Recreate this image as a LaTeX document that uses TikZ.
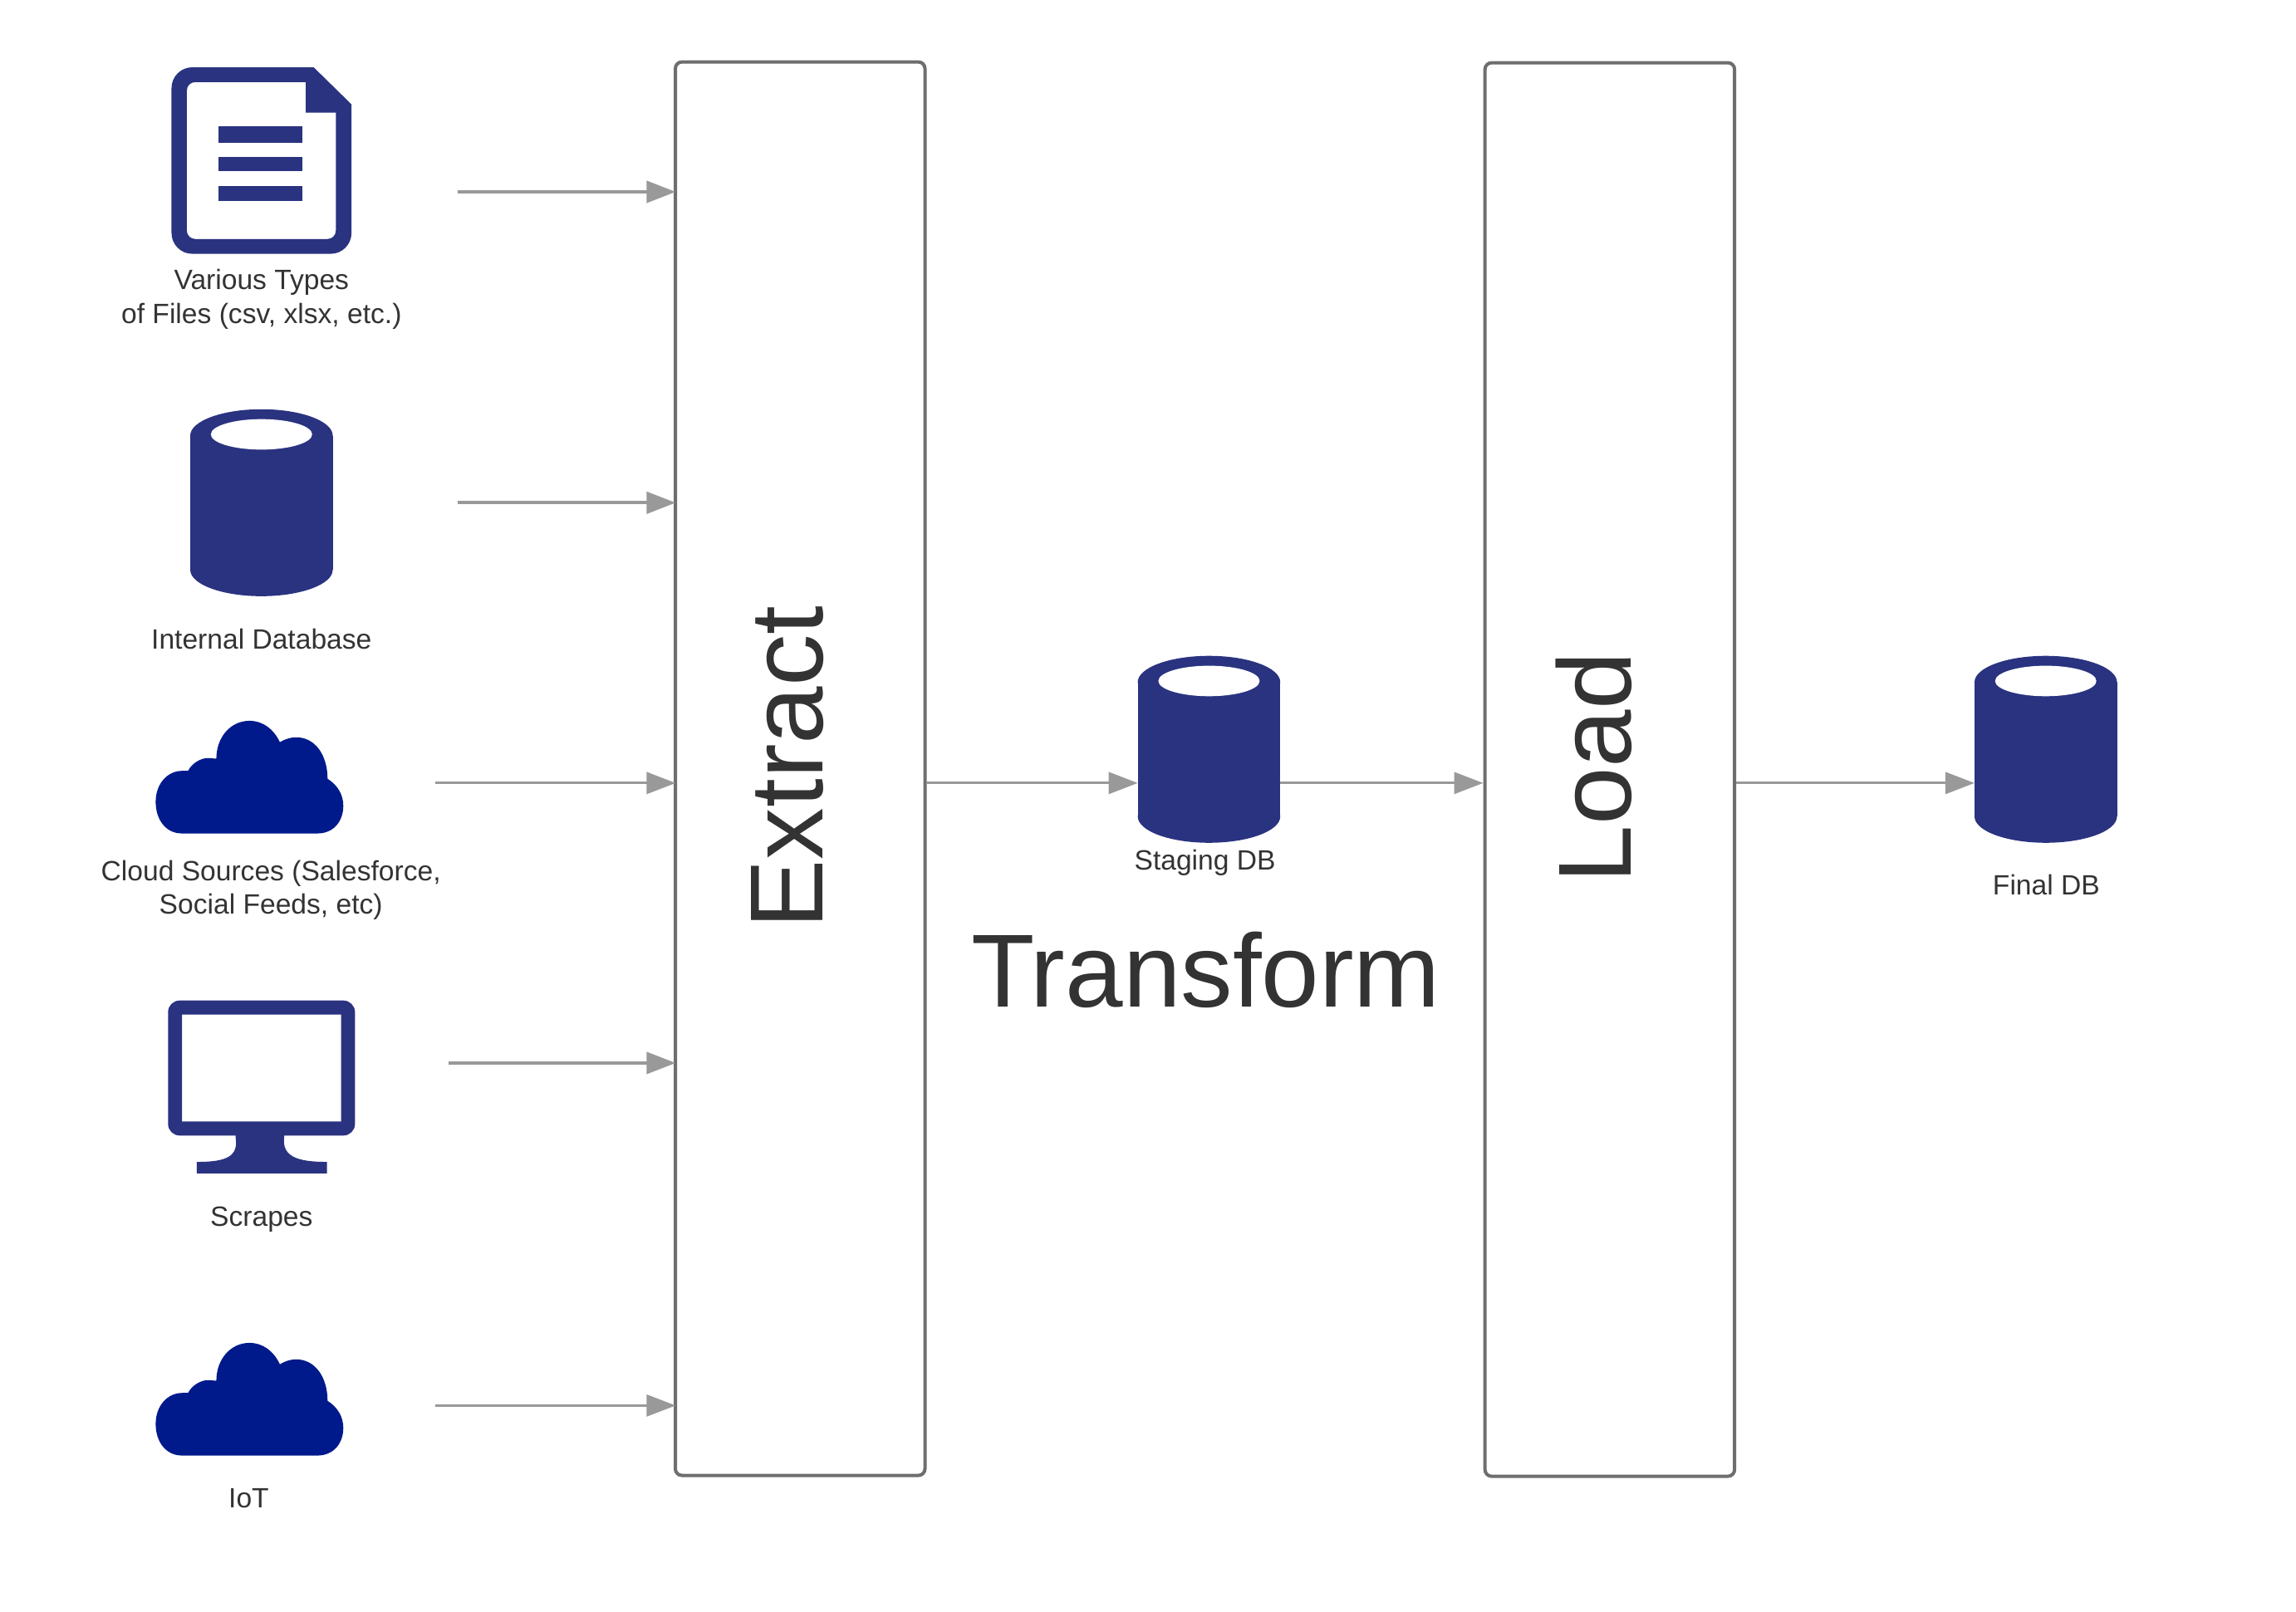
\documentclass[tikz,border=0pt]{standalone}
\usepackage{fontspec}
\setmainfont{Liberation Sans}
\usetikzlibrary{arrows.meta}
\definecolor{navy}{HTML}{2A3380}
\definecolor{cloudblue}{HTML}{001A8C}
\definecolor{arrowgrey}{HTML}{999999}
\definecolor{boxgrey}{HTML}{6E6E6E}
\definecolor{inkgrey}{HTML}{333333}
\tikzset{
  iconbox/.style={rectangle,draw=none,fill=none,inner sep=0pt,outer sep=0pt},
  stagebox/.style={rectangle,draw=boxgrey,fill=white,line width=4pt,rounded corners=8pt,minimum width=300.5pt,minimum height=1702pt,inner sep=0pt},
  flow/.style={draw=arrowgrey,line width=3.2pt,-{Triangle[length=35pt,width=26pt,fill=arrowgrey]}},
  toextract/.style={flow,shorten >=-2.5pt},
  smalltext/.style={text=inkgrey,font=\fontsize{33.6}{40.6}\selectfont,align=center,inner sep=0pt},
  bigtext/.style={text=inkgrey,font=\fontsize{125}{125}\selectfont,inner sep=0pt}
}
\newcommand{\dbicon}[3]{%
  \node[iconbox,minimum width=171.5pt,minimum height=225pt] (#1) at (#2,#3) {};
  \begin{scope}[shift={(#1.north west)}]
    \fill[navy] (0,32) -- (0,195) -- (173,195) -- (173,32) -- cycle;
    \fill[navy] (86.5,32) ellipse [x radius=86.5pt,y radius=32pt];
    \fill[navy] (86.5,195) ellipse [x radius=86.5pt,y radius=32pt];
    \fill[white] (86.5,30.5) ellipse [x radius=61.5pt,y radius=18.5pt];
  \end{scope}}
\newcommand{\cloudicon}[3]{%
  \node[iconbox,minimum width=226pt,minimum height=136pt] (#1) at (#2,#3) {};
  \begin{scope}[shift={(#1.north west)},x=0.491pt,y=-0.4pt]
    \fill[cloudblue] (65,342)
      .. controls (25,342) and (0,300) .. (0,246)
      .. controls (0,190) and (30,152) .. (65,152)
      -- (80,152)
      .. controls (90,128) and (112,113) .. (130,113)
      -- (150,115)
      .. controls (150,50) and (185,0) .. (232,0)
      .. controls (265,0) and (292,25) .. (307,65)
      .. controls (320,55) and (335,50) .. (347,50)
      .. controls (395,50) and (425,105) .. (425,176)
      .. controls (450,195) and (464,225) .. (464,258)
      .. controls (464,305) and (440,342) .. (400,342)
      -- cycle;
  \end{scope}}
\begin{document}
\begin{tikzpicture}[x=1pt,y=-1pt,scale=0.9915]
\useasboundingbox (0,0) rectangle (2787.7,1957.6);
% stage boxes
\node[stagebox] (extract) at (971.5,933.5) {};
\node[stagebox] (load) at (1954.5,934.5) {};
% file icon
\node[iconbox,minimum width=216.6pt,minimum height=224.6pt] (files) at (317.5,195) {};
\begin{scope}[shift={(files.north west)}]
  \fill[navy,even odd rule]
    (0,100) [rounded corners=25pt] -- (0,0) [sharp corners] -- (172.6,0) -- (218.5,45)
    [rounded corners=25pt] -- (218.5,226.5) -- (0,226.5) [sharp corners] -- cycle
    (18.6,100) [rounded corners=10pt] -- (18.6,18) [sharp corners] -- (163,18) -- (163,55) -- (199.5,55)
    [rounded corners=10pt] -- (199.5,208.5) -- (18.6,208.5) [sharp corners] -- cycle;
  \fill[navy] (57,72) rectangle (159,91.5);
  \fill[navy] (57,108.5) rectangle (159,126.5);
  \fill[navy] (57,144) rectangle (159,162);
\end{scope}
% icons
\dbicon{internal}{317.5}{610.5}
\cloudicon{cloudsrc}{303}{944}
\cloudicon{iot}{303}{1699.5}
% monitor
\node[iconbox,minimum width=225pt,minimum height=208pt] (scrapes) at (317.5,1320) {};
\begin{scope}[shift={(scrapes.north west)}]
  \fill[navy,even odd rule]
    [rounded corners=14pt] (0,0) rectangle (227,164)
    [sharp corners] (17,17) rectangle (210,147);
  \fill[navy] (82,160) -- (82,166) .. controls (86,190) and (70,196) .. (35,196) -- (35,210) -- (193,210) -- (193,196)
    .. controls (158,196) and (138,190) .. (141,166) -- (141,160) -- cycle;
\end{scope}
% centre and final
\dbicon{staging}{1468}{910}
\dbicon{final}{2484}{910}
% free ends
\coordinate (f1) at (555.5,233);
\coordinate (f2) at (555.5,610.6);
\coordinate (f3) at (529,951);
\coordinate (f4) at (545,1291);
\coordinate (f5) at (529,1707);
% connectors
\draw[toextract,line width=4pt] (f1) -- (f1 -| extract.west);
\draw[toextract,line width=4pt] (f2) -- (f2 -| extract.west);
\draw[toextract] (f3) -- (f3 -| extract.west);
\draw[toextract,line width=3.6pt] (f4) -- (f4 -| extract.west);
\draw[toextract,line width=2.8pt] (f5) -- (f5 -| extract.west);
\draw[flow] (f3 -| extract.east) -- (f3 -| staging.west);
\draw[flow] (f3 -| staging.east) -- (f3 -| load.west);
\draw[flow] (f3 -| load.east) -- (f3 -| final.west);
% labels
\node[smalltext] (lfiles) at (317.5,363.5) {Various Types\\of Files (csv, xlsx, etc.)};
\node[smalltext,anchor=base] (linternal) at (317.5,788) {Internal Database};
\node[smalltext] (lcloud) at (329,1081) {Cloud Sources (Salesforce,\\Social Feeds, etc)};
\node[smalltext,anchor=base] (lscrapes) at (317.5,1489) {Scrapes};
\node[smalltext,anchor=base] (liot) at (302,1831) {IoT};
\node[smalltext,anchor=base] (lstaging) at (1463,1056) {Staging DB};
\node[smalltext,anchor=base] (lfinal) at (2484.5,1087) {Final DB};
\node[bigtext,rotate=90,anchor=base] (textract) at (999,932) {Extract};
\node[bigtext,rotate=90,anchor=base] (tload) at (1980,932) {Load};
\node[bigtext,anchor=base] (ttransform) at (1464,1223) {Transform};
\end{tikzpicture}
\end{document}
